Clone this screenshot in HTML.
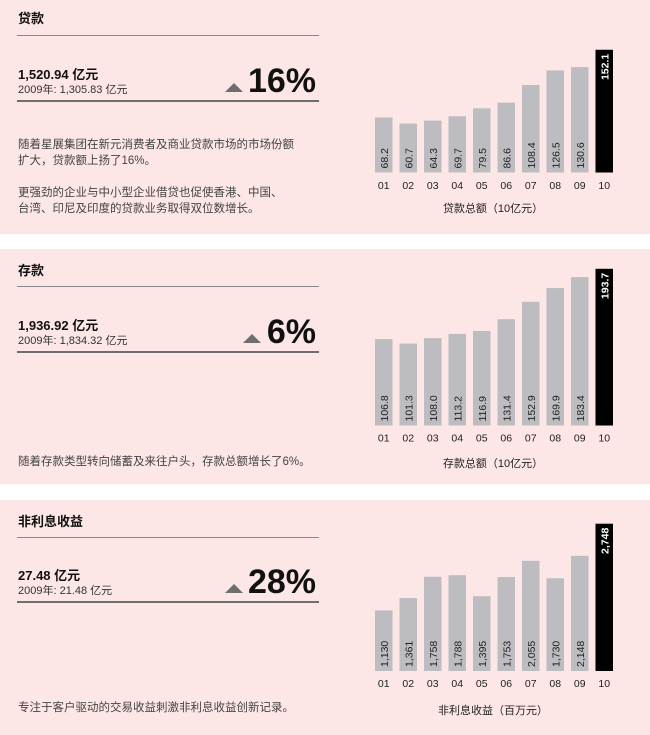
<!DOCTYPE html>
<html><head><meta charset="utf-8">
<style>
*{margin:0;padding:0;box-sizing:border-box}
body{width:650px;height:735px;background:#fff;position:relative;overflow:hidden;font-family:"Liberation Sans","Noto Sans CJK SC",sans-serif;color:#222}
.panel{position:absolute;left:0;width:650px;background:#fce6e6}
.t{position:absolute;white-space:nowrap}
.title{left:18px;font-size:13px;font-weight:bold;color:#111}
.rule1{position:absolute;left:17px;width:302px;height:1px;background:#8a8a8a}
.rule2{position:absolute;left:17px;width:302px;height:2px;background:#6e6e6e}
.val{left:18px;font-size:13px;font-weight:bold;color:#111}
.sub{left:18px;font-size:11px;color:#333}
.big{right:334px;font-size:34px;font-weight:bold;color:#111;line-height:1}
.tri{position:absolute;width:0;height:0;border-left:9px solid transparent;border-right:9px solid transparent;border-bottom:9px solid #6e6e6e}
.para{left:18px;font-size:11.5px;color:#444;line-height:16px}
svg{position:absolute;left:0;top:0}
</style></head><body>
<div class="panel" style="top:0;height:234px"></div>
<div class="panel" style="top:249px;height:235px"></div>
<div class="panel" style="top:500px;height:235px"></div>

<!-- Panel 1 -->
<div class="t title" style="top:8px">贷款</div>
<div class="rule1" style="top:35px"></div>
<div class="t val" style="top:64px">1,520.94 亿元</div>
<div class="t sub" style="top:81px">2009年:&nbsp;1,305.83 亿元</div>
<div class="tri" style="left:225px;top:83px"></div>
<div class="t big" style="top:64px">16%</div>
<div class="rule2" style="top:100px"></div>
<div class="t para" style="top:137px">随着星展集团在新元消费者及商业贷款市场的市场份额<br>扩大，贷款额上扬了16%。</div>
<div class="t para" style="top:185px">更强劲的企业与中小型企业借贷也促使香港、中国、<br>台湾、印尼及印度的贷款业务取得双位数增长。</div>

<!-- Panel 2 -->
<div class="t title" style="top:260px">存款</div>
<div class="rule1" style="top:286px"></div>
<div class="t val" style="top:315px">1,936.92 亿元</div>
<div class="t sub" style="top:332px">2009年:&nbsp;1,834.32 亿元</div>
<div class="tri" style="left:243px;top:334px"></div>
<div class="t big" style="top:315px">6%</div>
<div class="rule2" style="top:351px"></div>
<div class="t para" style="top:454px">随着存款类型转向储蓄及来往户头，存款总额增长了6%。</div>

<!-- Panel 3 -->
<div class="t title" style="top:511px">非利息收益</div>
<div class="rule1" style="top:537px"></div>
<div class="t val" style="top:565px">27.48 亿元</div>
<div class="t sub" style="top:582px">2009年:&nbsp;21.48 亿元</div>
<div class="tri" style="left:225px;top:584px"></div>
<div class="t big" style="top:565px">28%</div>
<div class="rule2" style="top:601px"></div>
<div class="t para" style="top:700px">专注于客户驱动的交易收益刺激非利息收益创新记录。</div>

<svg id="charts" width="650" height="735"></svg>

<script>
const years = ["01","02","03","04","05","06","07","08","09","10"];
const loanValues = [68.2,60.7,64.3,69.7,79.5,86.6,108.4,126.5,130.6,152.1];
const loanLabels = ["68.2","60.7","64.3","69.7","79.5","86.6","108.4","126.5","130.6","152.1"];
const depositValues = [106.8,101.3,108.0,113.2,116.9,131.4,152.9,169.9,183.4,193.7];
const depositLabels = ["106.8","101.3","108.0","113.2","116.9","131.4","152.9","169.9","183.4","193.7"];
const nonInterestValues = [1130,1361,1758,1788,1395,1753,2055,1730,2148,2748];
const nonInterestLabels = ["1,130","1,361","1,758","1,788","1,395","1,753","2,055","1,730","2,148","2,748"];

const NS = "http://www.w3.org/2000/svg";
const svg = document.getElementById("charts");
function mk(tag, attrs){const e=document.createElementNS(NS,tag);for(const k in attrs)e.setAttribute(k,attrs[k]);svg.appendChild(e);return e;}

function drawChart(prefix, values, labels, pxPerUnit, baseline, catY, title, titleY){
  const x0 = 375, pitch = 24.5, bw = 17.5;
  const xScale = i => x0 + i*pitch;
  const yScale = v => baseline - v*pxPerUnit;
  values.forEach((v,i)=>{
    const last = i === values.length-1;
    const r = mk("rect",{x:xScale(i),y:yScale(v),width:bw,height:baseline-yScale(v),fill:last?"#000":"#bdbdc1"});
    
    
    const cx = xScale(i)+bw/2+4;
    let t;
    if(last){
      const ty = yScale(v)+4;
      t = mk("text",{x:0,y:0,transform:`translate(${cx},${ty}) rotate(-90)`,"text-anchor":"end",fill:"#fff","font-size":"10.5","font-weight":"bold","font-family":"Liberation Sans, sans-serif"});
    } else {
      const ty = baseline-4;
      t = mk("text",{x:0,y:0,transform:`translate(${cx},${ty}) rotate(-90)`,"text-anchor":"start",fill:"#222","font-size":"10.5","font-family":"Liberation Sans, sans-serif"});
    }
    t.textContent = labels[i];
    
    
    const c = mk("text",{x:xScale(i)+bw/2,y:catY,"text-anchor":"middle",fill:"#222","font-size":"10.5","font-family":"Liberation Sans, sans-serif"});
    c.textContent = years[i];
    
    
  });
  const tt = mk("text",{x:493,y:titleY,"text-anchor":"middle",fill:"#222","font-size":"11","font-family":"Liberation Sans, Noto Sans CJK SC, sans-serif"});
  tt.textContent = title;
  
  
}
drawChart("loans", loanValues, loanLabels, 0.807, 172.5, 189, "贷款总额（10亿元）", 212);
drawChart("deposits", depositValues, depositLabels, 0.809, 425.5, 441.5, "存款总额（10亿元）", 467);
drawChart("non-interest", nonInterestValues, nonInterestLabels, 0.0536, 671, 687, "非利息收益（百万元）", 714);
</script>
</body></html>
